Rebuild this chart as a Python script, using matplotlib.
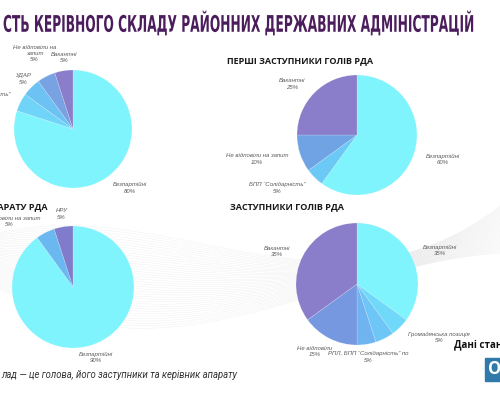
import numpy as np
import matplotlib.pyplot as plt
from matplotlib.patches import Rectangle
from matplotlib.patheffects import AbstractPathEffect
from matplotlib.transforms import Affine2D

# Голови РДА
head_labels = ['Безпартійні', 'БПП “Солідарність”', 'УДАР', 'Не відповіли на\nзапит', 'Вакантні']
head_values = [80, 5, 5, 5, 5]
head_colors = ['#80F4FC', '#6FD4F8', '#6CC2F3', '#78A2E2', '#8A7DC9']

# Перші заступники голів РДА
first_labels = ['Безпартійні', 'БПП “Солідарність”', 'Не відповіли на запит', 'Вакантні']
first_values = [60, 5, 10, 25]
first_colors = ['#80F4FC', '#6CC8F5', '#70A3E3', '#8A7DC9']

# Керівники апарату РДА
staff_labels = ['Безпартійні', 'Не відповіли на запит', 'НРУ']
staff_values = [90, 5, 5]
staff_colors = ['#80F4FC', '#6BB8F0', '#7F7DCB']

# Заступники голів РДА
dep_labels = ['Безпартійні', 'Громадянська позиція', '', 'РПЛ, БПП “Солідарність” по',
              'Не відповіли', 'Вакантні']
dep_values = [35, 5, 5, 5, 15, 35]
dep_colors = ['#80F4FC', '#70D8F9', '#6DC6F5', '#6FB4F0', '#7598E0', '#8A7DC9']

H = 400


def Y(y):
    # координати картинки (зверху вниз) -> координати осей
    return H - np.asarray(y)


class Squeeze(AbstractPathEffect):
    # стискає текст по горизонталі (вузький шрифт заголовка)
    def __init__(self, sx, x0):
        super().__init__()
        self.sx, self.x0 = sx, x0

    def draw_path(self, renderer, gc, tpath, affine, rgbFace=None):
        squeeze = Affine2D().translate(-self.x0, 0).scale(self.sx, 1).translate(self.x0, 0)
        renderer.draw_path(gc, tpath, affine + squeeze, rgbFace)


fig = plt.figure(figsize=(5, 4), dpi=100)
fig.patch.set_facecolor('white')
ax = fig.add_axes([0, 0, 1, 1])
ax.set_xlim(0, 500)
ax.set_ylim(0, H)
ax.set_aspect('equal')
ax.axis('off')

# декоративні сірі хвилі на тлі
xs = np.linspace(-10, 510, 300)
ctrl_x = [0, 130, 200, 300, 420, 500]
c = np.polyval(np.polyfit(ctrl_x, [262, 272, 290, 282, 252, 232], 3), xs)
w = np.polyval(np.polyfit(ctrl_x, [55, 100, 80, 35, 22, 45], 3), xs)
for t in np.linspace(-0.5, 0.5, 40):
    ax.plot(xs, Y(c + t * w), color='#a0a0a0', lw=0.25, alpha=0.2, zorder=0)


def draw_pie(values, labels, colors, center, radius, dists, shifts):
    cx, cy = center[0], Y(center[1])
    wedges, _ = ax.pie(values, colors=colors, startangle=90, counterclock=False,
                       center=(cx, cy), radius=radius, frame=True,
                       wedgeprops=dict(edgecolor=(1, 1, 1, 0.4), linewidth=0.3))
    for wdg, lab, val, d, s in zip(wedges, labels, values, dists, shifts):
        if not lab:
            continue
        a = np.deg2rad((wdg.theta1 + wdg.theta2) / 2 + s)
        ax.text(cx + d * radius * np.cos(a), cy + d * radius * np.sin(a),
                f'{lab}\n{val}%', ha='center', va='center', fontsize=4.3,
                style='italic', family='Liberation Sans', color='#595959',
                linespacing=1.3, zorder=3)


draw_pie(head_values, head_labels, head_colors, (73, 129), 59,
         [1.39, 1.63, 1.2, 1.44, 1.22], [8, 8, 0, 0, -2])
draw_pie(first_values, first_labels, first_colors, (357, 135), 60,
         [1.49, 1.6, 1.71, 1.38], [2.4, -11.5, -4.5, 7])
draw_pie(staff_values, staff_labels, staff_colors, (73, 287), 61,
         [1.22, 1.5, 1.21], [0, 17.5, 0])
draw_pie(dep_values, dep_labels, dep_colors, (357, 284), 61,
         [1.46, 1.6, 1.2, 1.21, 1.3, 1.42], [-5, 12, 0, 0, -5, 5])

ax.set_xlim(0, 500)
ax.set_ylim(0, H)


def text_width(txt):
    fig.canvas.draw()
    return txt.get_window_extent(fig.canvas.get_renderer()).width


def fit_width(txt, width):
    txt.set_fontsize(txt.get_fontsize() * width / text_width(txt))


# заголовок: висока вузька капітель
title = ax.text(3, Y(24), 'СТЬ КЕРІВНОГО СКЛАДУ РАЙОННИХ ДЕРЖАВНИХ АДМІНІСТРАЦІЙ',
                ha='left', va='center', fontsize=16.5, weight='bold',
                family=['Liberation Sans Narrow', 'DejaVu Sans'], color='#4B1D5C')
x0 = ax.transData.transform((3, 0))[0]
title.set_path_effects([Squeeze(471 / text_width(title), x0)])

# підзаголовки
sub_kw = dict(va='center', fontsize=7, weight='bold', family='Open Sans', color='#1a1a1a')
sub1 = ax.text(227, Y(61), 'ПЕРШІ ЗАСТУПНИКИ ГОЛІВ РДА', ha='left', **sub_kw)
fit_width(sub1, 147)
sub_kw['fontsize'] = sub1.get_fontsize()
ax.text(230, Y(207), 'ЗАСТУПНИКИ ГОЛІВ РДА', ha='left', **sub_kw)
ax.text(48, Y(207), 'КЕРІВНИКИ АПАРАТУ РДА', ha='right', **sub_kw)

# примітка
note = ax.text(1, Y(375), 'лад — це голова, його заступники та керівник апарату',
               ha='left', va='center', fontsize=7, style='italic',
               family='Roboto', color='#333333')
fit_width(note, 236)

ax.text(454, Y(345), 'Дані станом', ha='left', va='center', fontsize=7,
        weight='bold', family='Open Sans', color='#111111')

# логотип
ax.add_patch(Rectangle((485, Y(381)), 20, 23, color='#2F7AAB', zorder=2))
ax.text(488, Y(369.5), 'О', ha='left', va='center', fontsize=12, weight='bold',
        family='Open Sans', color='white', zorder=3)

fig.savefig('out.png', dpi=100, facecolor='white')
